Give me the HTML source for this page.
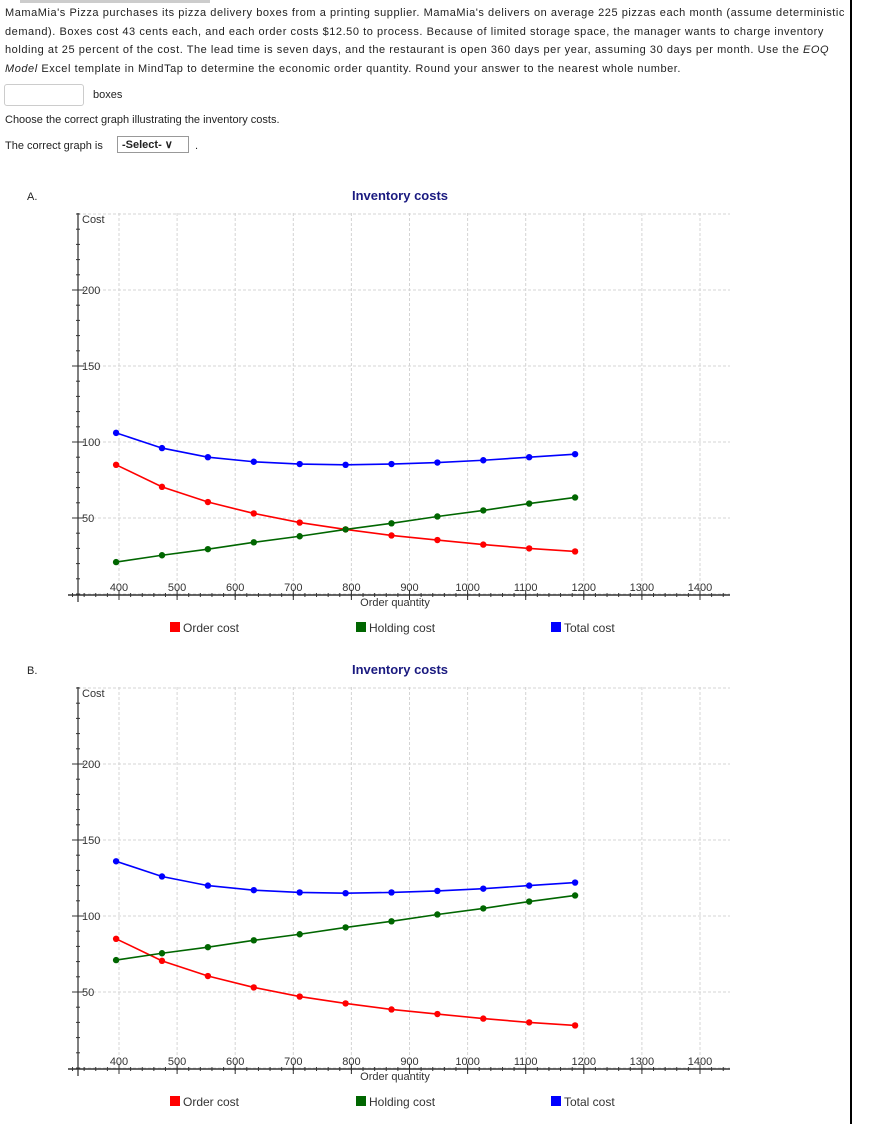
<!DOCTYPE html>
<html><head><meta charset="utf-8"><style>
body{margin:0;width:874px;height:1124px;background:#fff;font-family:"Liberation Sans",sans-serif;font-size:11px;color:#222;position:relative;overflow:hidden}
.p{position:absolute;left:5px;line-height:18.7px;width:843px;letter-spacing:0.55px;white-space:nowrap}
.vline{position:absolute;left:850px;top:0;width:2px;height:1124px;background:#000}
svg text{font-family:"Liberation Sans",sans-serif}
</style></head><body>
<div class="vline"></div>
<div style="position:absolute;left:20px;top:0;width:190px;height:3px;background:#ccc"></div>
<div class="p" style="top:4px">MamaMia's Pizza purchases its pizza delivery boxes from a printing supplier. MamaMia's delivers on average 225 pizzas each month (assume deterministic<br>demand). Boxes cost 43 cents each, and each order costs $12.50 to process. Because of limited storage space, the manager wants to charge inventory<br>holding at 25 percent of the cost. The lead time is seven days, and the restaurant is open 360 days per year, assuming 30 days per month. Use the <i>EOQ</i><br><i>Model</i> Excel template in MindTap to determine the economic order quantity. Round your answer to the nearest whole number.</div>
<div style="position:absolute;left:4px;top:84px;width:78px;height:20px;border:1px solid #ccc;border-radius:3px"></div>
<div style="position:absolute;left:93px;top:89px">boxes</div>
<div style="position:absolute;left:5px;top:114px">Choose the correct graph illustrating the inventory costs.</div>
<div style="position:absolute;left:5px;top:140px">The correct graph is</div>
<div style="position:absolute;left:117px;top:136px;width:72px;height:17px;border:1px solid #999;font-weight:bold;line-height:17px;padding-left:4px;box-sizing:border-box">-Select- &#x2228;</div>
<div style="position:absolute;left:195px;top:140px">.</div>
<div style="position:absolute;left:27px;top:191px">A.</div>
<div style="position:absolute;left:27px;top:665px">B.</div>
<svg id="svg" width="874" height="1124" style="position:absolute;left:0;top:0"></svg>
<script>
const xTicks=[400,500,600,700,800,900,1000,1100,1200,1300,1400];
const yTicks=[50,100,150,200];
const quantities=[395,474,553,632,711,790,869,948,1027,1106,1185];
const orderCost=[85,70.5,60.5,53,47,42.5,38.5,35.5,32.5,30,28];
const holdingA=[21,25.5,29.5,34,38,42.5,46.5,51,55,59.5,63.5];
const totalA=[106,96,90,87,85.5,85,85.5,86.5,88,90,92];
const holdingB=[71,75.5,79.5,84,88,92.5,96.5,101,105,109.5,113.5];
const totalB=[136,126,120,117,115.5,115,115.5,116.5,118,120,122];
const svg=document.getElementById('svg');
const NS='http://www.w3.org/2000/svg';
function mk(tag,attrs,parent){const e=document.createElementNS(NS,tag);for(const k in attrs)e.setAttribute(k,attrs[k]);(parent||svg).appendChild(e);return e;}
function chart(off,holding,total,id){
  const g=mk('g',{});
  
  
  const xs=v=>119+(v-400)*0.581;
  const ys=v=>off+594-v*1.52;
  const t=mk('text',{x:400,y:off+200,'text-anchor':'middle',fill:'#1a1a80','font-size':13,'font-weight':'bold'},g);t.textContent='Inventory costs';
  
  
  [0,50,100,150,200,250].forEach(v=>{const l=mk('line',{x1:78,x2:730,y1:ys(v),y2:ys(v),stroke:'#d4d4d4','stroke-dasharray':'3,2'},g);
    
    });
  xTicks.forEach(v=>{const l=mk('line',{x1:xs(v),x2:xs(v),y1:off+213,y2:off+600,stroke:'#d4d4d4','stroke-dasharray':'3,2'},g);
    
    });
  const ya=mk('line',{x1:78,x2:78,y1:off+213,y2:off+602,stroke:'#555','stroke-width':1.5},g);
  
  
  for(let v=0;v<=250;v+=10){mk('line',{x1:76,x2:80,y1:ys(v),y2:ys(v),stroke:'#333'},g);}
  yTicks.forEach(v=>{mk('line',{x1:72,x2:84,y1:ys(v),y2:ys(v),stroke:'#333'},g);
    const tx=mk('text',{x:82,y:ys(v)+4,fill:'#333','font-size':11},g);tx.textContent=v;
    
    });
  const c=mk('text',{x:82,y:off+223,fill:'#333','font-size':11},g);c.textContent='Cost';
  
  
  const xa=mk('line',{x1:68,x2:730,y1:off+595,y2:off+595,stroke:'#333','stroke-width':1.5},g);
  
  
  for(let v=220;v<=1460;v+=20){if(xs(v)>68&&xs(v)<730)mk('line',{x1:xs(v),x2:xs(v),y1:off+593,y2:off+597,stroke:'#333'},g);}
  xTicks.forEach(v=>{mk('line',{x1:xs(v),x2:xs(v),y1:off+590,y2:off+600,stroke:'#333'},g);
    const tx=mk('text',{x:xs(v),y:off+591,'text-anchor':'middle',fill:'#333','font-size':11},g);tx.textContent=v;
    
    });
  const xt=mk('text',{x:395,y:off+606,'text-anchor':'middle',fill:'#333','font-size':11},g);xt.textContent='Order  quantity';
  
  
  [[orderCost,'#f00','order-cost'],[holding,'#060','holding-cost'],[total,'#00f','total-cost']].forEach(([arr,col,nm])=>{
    const pl=mk('polyline',{points:arr.map((v,i)=>xs(quantities[i])+','+ys(v)).join(' '),fill:'none',stroke:col,'stroke-width':1.6},g);
    
    
    arr.forEach((v,i)=>{const p=mk('circle',{cx:xs(quantities[i]),cy:ys(v),r:3.2,fill:col},g);
      
      });
  });
  [['Order  cost','#f00',170],['Holding  cost','#060',356],['Total  cost','#00f',551]].forEach(([lb,col,x])=>{
    const r=mk('rect',{x:x,y:off+622,width:10,height:10,fill:col},g);
    
    
    const tx=mk('text',{x:x+13,y:off+632,fill:'#333','font-size':12},g);tx.textContent=lb;
    
    
  });
}
chart(0,holdingA,totalA,'a');
chart(474,holdingB,totalB,'b');
</script>
</body></html>
